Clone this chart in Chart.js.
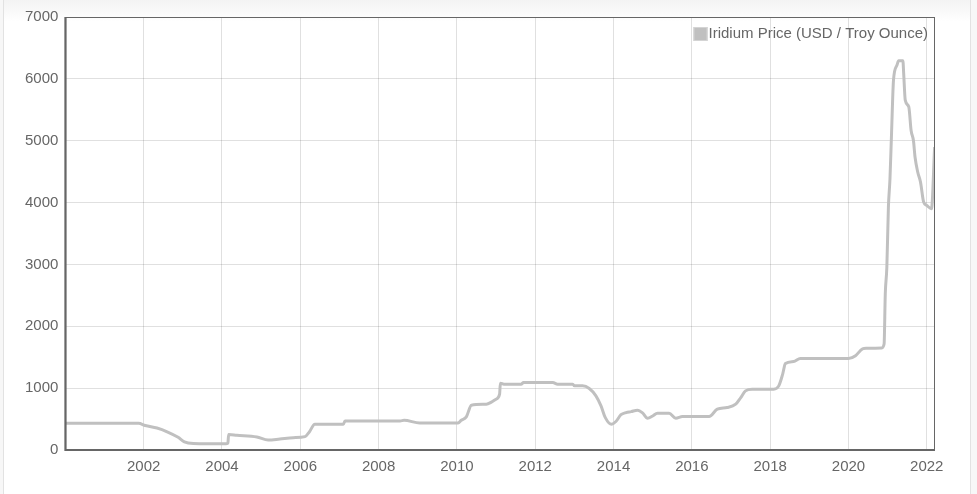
<!DOCTYPE html>
<html lang="en">
<head>
    <meta charset="UTF-8">
    <title>Iridium Price</title>
    <script src="https://cdn.jsdelivr.net/npm/chart.js"></script>
    <style>
        html, body {
            margin: 0;
            padding: 0;
            background: #f7f7f7;
        }
        .marco {
            position: absolute;
            left: 3px;
            top: 0;
            width: 966px;
            height: 494px;
            border-left: 1px solid #e2e2e2;
            border-right: 1px solid #e2e2e2;
            background: linear-gradient(#f3f3f3, #ffffff 22px);
        }
        .lienzo {
            position: absolute;
            left: 0;
            top: 0;
            width: 977px;
            height: 494px;
        }
    </style>
</head>
<body>
    <div class="marco"></div>
    <div class="lienzo">
        <canvas id="grafico"></canvas>
    </div>

<script type='text/javascript'>

    // fechas en anios decimales y precio en USD por onza troy
    var anios = [
        2000.00, 2001.87, 2002.04, 2002.34, 2002.60, 2002.88, 2003.04, 2003.27, 2004.10, 2004.15,
        2004.17, 2004.38, 2004.89, 2005.18, 2005.48, 2005.82, 2006.12, 2006.23, 2006.37, 2007.10,
        2007.14, 2008.55, 2008.65, 2009.05, 2010.03, 2010.11, 2010.24, 2010.37, 2010.75, 2010.88,
        2011.00, 2011.09, 2011.11, 2011.20, 2011.64, 2011.70, 2012.45, 2012.57, 2012.96, 2013.00,
        2013.21, 2013.38, 2013.55, 2013.68, 2013.79, 2013.95, 2014.06, 2014.19, 2014.32, 2014.45,
        2014.61, 2014.74, 2014.87, 2015.00, 2015.12, 2015.42, 2015.59, 2015.76, 2016.44, 2016.65,
        2016.90, 2017.12, 2017.25, 2017.37, 2017.54, 2018.09, 2018.22, 2018.32, 2018.39, 2018.60,
        2018.77, 2020.00, 2020.18, 2020.30, 2020.39, 2020.85, 2020.91, 2020.94, 2020.98, 2021.02,
        2021.06, 2021.10, 2021.15, 2021.24, 2021.28, 2021.39, 2021.41, 2021.45, 2021.54, 2021.60,
        2021.66, 2021.70, 2021.77, 2021.84, 2021.92, 2022.00, 2022.12, 2022.20
    ];
    var precios = [
        432, 432, 395, 355, 295, 205, 130, 105, 100, 110,
        250, 238, 211, 160, 178, 200, 216, 292, 416, 416,
        470, 470, 480, 437, 437, 481, 535, 724, 740, 773,
        821, 902, 1080, 1064, 1064, 1091, 1091, 1064, 1064, 1037,
        1037, 994, 875, 713, 524, 416, 460, 570, 605, 620,
        643, 600, 513, 550, 594, 594, 513, 540, 540, 659,
        686, 740, 848, 956, 983, 983, 1037, 1227, 1398, 1431,
        1480, 1480, 1523, 1604, 1642, 1650, 1713, 2523, 2954, 3927,
        4386, 5116, 5980, 6223, 6292, 6292, 6088, 5656, 5548, 5164,
        5000, 4737, 4490, 4330, 4008, 3954, 3900, 4898
    ];
    var nombreSerie = "Iridium Price (USD / Troy Ounce)";
    var ticksY = [0, 1000, 2000, 3000, 4000, 5000, 6000, 7000];

    var puntos = [];
    for (var i = 0; i < anios.length; i++) {
        puntos.push({ x: anios[i], y: precios[i] });
    }

    // marco alrededor del area del grafico
    var marcoArea = {
        id: 'marcoArea',
        afterDraw: function(chart) {
            var a = chart.chartArea;
            var c = chart.ctx;
            c.save();
            c.strokeStyle = '#666';
            c.lineWidth = 1;
            c.strokeRect(a.left + 0.5, a.top + 0.5, a.right - a.left - 1, a.bottom - a.top - 1);
            c.lineWidth = 2;
            c.beginPath();
            c.moveTo(a.left, a.top);
            c.lineTo(a.left, a.bottom);
            c.lineTo(a.right, a.bottom);
            c.stroke();
            c.restore();
        }
    };

    // leyenda dentro del area, arriba a la derecha
    var leyendaDentro = {
        id: 'leyendaDentro',
        afterDraw: function(chart) {
            var a = chart.chartArea;
            var c = chart.ctx;
            var ds = chart.data.datasets[0];
            c.save();
            c.font = "15px 'Liberation Sans', Arial, sans-serif";
            c.textBaseline = 'middle';
            c.textAlign = 'left';
            var ancho = c.measureText(ds.label).width;
            var xTexto = a.right - 7 - ancho;
            var yCentro = a.top + 17;
            c.fillStyle = ds.backgroundColor;
            c.fillRect(xTexto - 15, yCentro - 7, 14, 14);
            c.strokeStyle = '#d4d4d4';
            c.lineWidth = 1;
            c.strokeRect(xTexto - 14.5, yCentro - 6.5, 13, 13);
            c.fillStyle = '#666';
            c.fillText(ds.label, xTexto, yCentro);
            c.restore();
        }
    };

    Chart.defaults.font.family = "'Liberation Sans', Arial, sans-serif";
    Chart.defaults.font.size = 15;
    Chart.defaults.color = '#666';

    new Chart(document.getElementById('grafico'), {
        type: 'line',
        data: {
            datasets: [{
                label: nombreSerie,
                data: puntos,
                borderColor: '#c0c0c0',
                backgroundColor: '#c0c0c0',
                borderWidth: 3,
                pointRadius: 0,
                cubicInterpolationMode: 'monotone',
                fill: false
            }]
        },
        options: {
            responsive: true,
            maintainAspectRatio: false,
            animation: false,
            layout: {
                padding: { left: 18, right: 42, top: 17, bottom: 10 }
            },
            plugins: {
                legend: { display: false },
                tooltip: { enabled: false }
            },
            scales: {
                x: {
                    type: 'linear',
                    min: 2000,
                    max: 2022.21,
                    border: { display: false },
                    grid: { color: 'rgba(0,0,0,0.12)', drawTicks: false },
                    ticks: {
                        stepSize: 2,
                        includeBounds: false,
                        padding: 8,
                        maxRotation: 0,
                        callback: function(v) { return v === 2000 ? null : String(v); }
                    }
                },
                y: {
                    min: 0,
                    max: 7000,
                    border: { display: false },
                    grid: { color: 'rgba(0,0,0,0.12)', drawTicks: false },
                    afterBuildTicks: function(axis) {
                        axis.ticks = ticksY.map(function(v) { return { value: v }; });
                    },
                    ticks: {
                        padding: 7,
                        callback: function(v) { return String(v); }
                    }
                }
            }
        },
        plugins: [marcoArea, leyendaDentro]
    });

</script>
</body>
</html>
